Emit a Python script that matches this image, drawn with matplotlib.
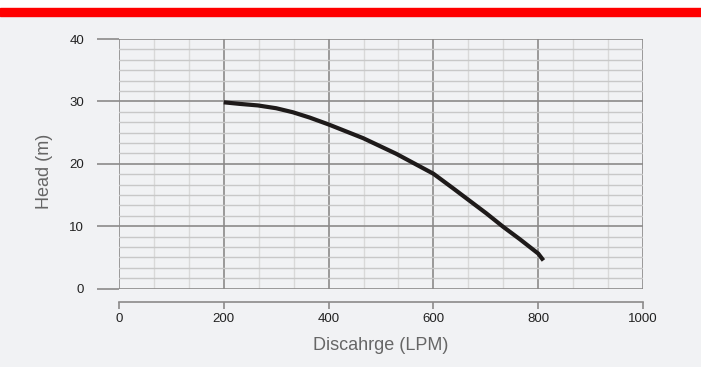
import numpy as np
import matplotlib.pyplot as plt
from matplotlib.patches import Rectangle
from matplotlib.ticker import MultipleLocator

# --- Dati curva pompa ---
discharge = [200, 230, 265, 300, 332, 364, 400, 466, 529, 600, 637, 667, 701, 733, 765, 800, 810]
head = [29.85, 29.6, 29.35, 28.9, 28.25, 27.4, 26.3, 24.1, 21.6, 18.4, 16.1, 14.2, 12.05, 9.9, 7.9, 5.6, 4.5]
x_ticks = [0, 200, 400, 600, 800, 1000]
y_ticks = [0, 10, 20, 30, 40]

BG = '#f1f2f4'
MAJOR = '#8c8a8a'
MINOR_H = '#c8c8c8'
MINOR_V = '#d9d9d9'

plt.rcParams['font.family'] = ['Liberation Sans', 'DejaVu Sans']

fig = plt.figure(figsize=(7.01, 3.67), dpi=100, facecolor=BG)
H = 367
# banda bianca + barra rossa in alto
fig.patches.append(Rectangle((0, 1 - 8 / H), 1, 8 / H, transform=fig.transFigure,
                             color='white', zorder=0))
fig.patches.append(Rectangle((0, 1 - 16 / H), 1, 8 / H, transform=fig.transFigure,
                             color='#ff0000', zorder=0))

ax = fig.add_axes([119 / 701, 1 - 288.5 / H, (643 - 119) / 701, (288.5 - 39) / H])
ax.set_facecolor(BG)
ax.set_xlim(0, 1000)
ax.set_ylim(0, 40)
ax.set_axisbelow(True)

# griglia
ax.xaxis.set_minor_locator(MultipleLocator(200 / 3))
ax.yaxis.set_minor_locator(MultipleLocator(10 / 6))
ax.grid(which='minor', axis='x', color=MINOR_V, lw=1.0)
ax.grid(which='minor', axis='y', color=MINOR_H, lw=1.0)
ax.grid(which='major', color=MAJOR, lw=1.2)

ax.plot(discharge, head, color='#1e1a1a', lw=3.0, solid_capstyle='butt',
        solid_joinstyle='round', zorder=5)

for s in ['left', 'top', 'right']:
    ax.spines[s].set_visible(False)
ax.spines['bottom'].set_position(('outward', 10))
ax.spines['bottom'].set_color(MAJOR)
ax.spines['bottom'].set_linewidth(1.2)

ax.set_xticks(x_ticks)
ax.set_yticks(y_ticks)
ax.tick_params(axis='x', which='major', direction='out', length=5, width=1.2,
               color=MAJOR, labelsize=9.5, labelcolor='#222222', pad=3)
ax.tick_params(axis='y', which='major', direction='out', length=16, width=1.2,
               color=MAJOR, labelsize=9.5, labelcolor='#222222', pad=9)
ax.tick_params(which='minor', length=0)

ax.set_xlabel('Discahrge (LPM)', fontsize=13, color='#666666')
ax.xaxis.set_label_coords(0.5, -0.195)
ax.set_ylabel('Head (m)', fontsize=13, color='#666666')
ax.yaxis.set_label_coords(-0.126, 0.47)

fig.savefig('out.png', dpi=100, facecolor=BG)
